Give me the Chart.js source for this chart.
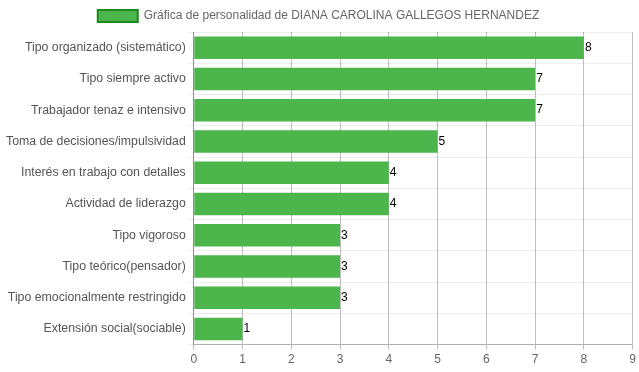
<!DOCTYPE html>
<html lang="es">
<head>
    <meta charset="UTF-8">
    <title>Gráfica de personalidad</title>
    <script src="https://cdn.jsdelivr.net/npm/chart.js"></script>
    <style>
        body { margin: 0; background: #fff; }
    </style>
</head>
<body>
    <canvas id="personalidad" width="639" height="372"></canvas>
    <script>
        const rasgos = [
            'Tipo organizado (sistemático)',
            'Tipo siempre activo',
            'Trabajador tenaz e intensivo',
            'Toma de decisiones/impulsividad',
            'Interés en trabajo con detalles',
            'Actividad de liderazgo',
            'Tipo vigoroso',
            'Tipo teórico(pensador)',
            'Tipo emocionalmente restringido',
            'Extensión social(sociable)'
        ];
        const puntajes = [8, 7, 7, 5, 4, 4, 3, 3, 3, 1];
        const titulo = 'Gráfica de personalidad de DIANA CAROLINA GALLEGOS HERNANDEZ';

        Chart.defaults.font.family = '"Liberation Sans", Arial, sans-serif';
        Chart.defaults.font.size = 12;
        Chart.defaults.color = '#666';

        // escribe el valor al final de cada barra
        const etiquetas = {
            id: 'etiquetas',
            afterDatasetsDraw(chart) {
                const ctx = chart.ctx;
                ctx.save();
                ctx.fillStyle = '#000';
                ctx.font = '12px "Liberation Sans", Arial, sans-serif';
                ctx.textAlign = 'left';
                ctx.textBaseline = 'middle';
                chart.getDatasetMeta(0).data.forEach((bar, i) => {
                    ctx.fillText(puntajes[i], bar.x + 1, bar.y);
                });
                ctx.restore();
            }
        };

        new Chart(document.getElementById('personalidad'), {
            type: 'bar',
            data: {
                labels: rasgos,
                datasets: [{
                    label: titulo,
                    data: puntajes,
                    backgroundColor: '#4cb54c',
                    borderColor: '#1e8a1e',
                    borderWidth: 2,
                    borderSkipped: true,
                    barPercentage: 0.9,
                    categoryPercentage: 0.8
                }]
            },
            options: {
                indexAxis: 'y',
                responsive: false,
                animation: false,
                layout: { padding: { left: 3, right: 5, bottom: 2 } },
                plugins: {
                    legend: {
                        position: 'top',
                        labels: { boxWidth: 40, boxHeight: 12, color: '#666' }
                    },
                    tooltip: { enabled: false }
                },
                scales: {
                    x: {
                        min: 0,
                        max: 9,
                        ticks: { stepSize: 1, color: '#666' },
                        grid: { color: 'rgba(0,0,0,0.25)', tickLength: 5 },
                        border: { color: 'rgba(0,0,0,0.25)' }
                    },
                    y: {
                        ticks: { color: '#555', font: { size: 12.3 }, padding: 3 },
                        grid: { color: 'rgba(0,0,0,0.07)', tickLength: 5 },
                        border: { color: 'rgba(0,0,0,0.25)' }
                    }
                }
            },
            plugins: [etiquetas]
        });
    </script>
</body>
</html>
